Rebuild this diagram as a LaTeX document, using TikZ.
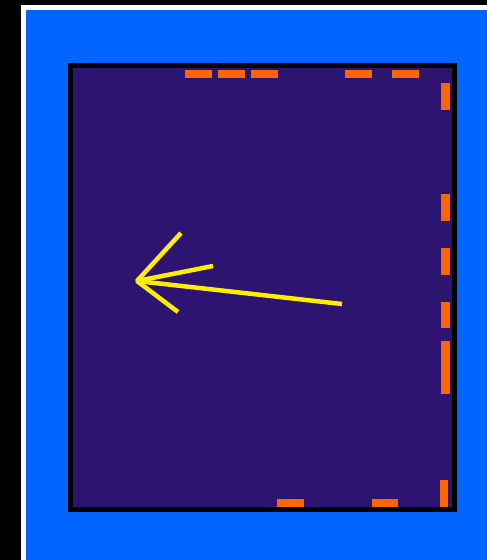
\documentclass[tikz,border=0pt]{standalone}
\usepackage{tikz}
\usetikzlibrary{positioning, calc}
\definecolor{slideblue}{RGB}{0,102,255}
\definecolor{panelpurple}{RGB}{44,20,112}
\definecolor{tickorange}{RGB}{255,102,0}
\definecolor{pointeryellow}{RGB}{255,238,0}
\tikzset{
    page edge/.style={fill=white},
    slide back/.style={fill=slideblue},
    panel box/.style={draw=black, line width=5pt, fill=panelpurple},
    orange tick/.style={fill=tickorange},
    pointer line/.style={draw=pointeryellow, line width=4.5pt, line join=bevel},
}

\begin{document}
\begin{tikzpicture}[x=1pt, y=-1pt]
    \fill[black] (0,0) rectangle (487,560);
    \useasboundingbox (0,0) rectangle (487,560);
    \fill[page edge] (21,5) rectangle (487,560);
    \fill[slide back] (26,10) rectangle (487,560);
    \draw[panel box] (70.5,65.5) rectangle (454.5,509.5);
    % ticks along the top edge
    \foreach \a/\b in {185/212, 218/245, 251/278, 345/372, 392/419}
        \fill[orange tick] (\a,70) rectangle (\b,78);
    % ticks along the right edge
    \foreach \a/\b in {83/110, 194/221, 248/275, 302/328, 341/367, 367/394}
        \fill[orange tick] (441,\a) rectangle (450,\b);
    \fill[orange tick] (440,480) rectangle (448,507);
    % ticks along the bottom edge
    \foreach \a/\b in {277/304, 372/398}
        \fill[orange tick] (\a,499) rectangle (\b,507);
    % pointer
    \coordinate (tip) at (137,281);
    \coordinate (tail) at (342,304);
    \coordinate (prong up) at (181,233);
    \coordinate (prong mid) at (213,266);
    \coordinate (prong low) at (178,312);
    \draw[pointer line] (tail) -- (tip);
    \draw[pointer line] (prong up) -- (tip) -- (prong low);
    \draw[pointer line] (prong mid) -- (tip);
\end{tikzpicture}
\end{document}
